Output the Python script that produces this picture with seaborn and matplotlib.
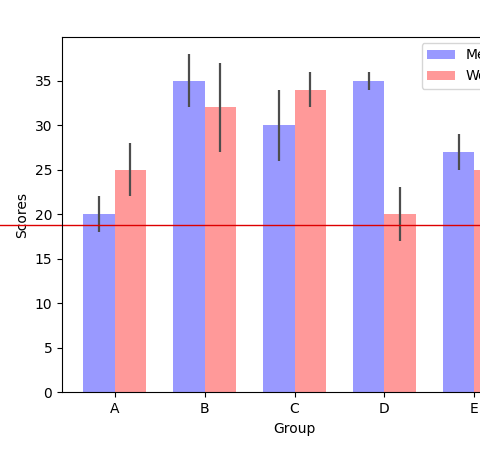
import pandas as pd
import matplotlib
matplotlib.use('Agg')
import matplotlib.pyplot as plt
import seaborn as sns

groups = ['A', 'B', 'C', 'D', 'E']
men_means = [20, 35, 30, 35, 27]
women_means = [25, 32, 34, 20, 25]
men_std = [2, 3, 4, 1, 2]
women_std = [3, 5, 2, 3, 3]
ref_level = 18.8

df = pd.DataFrame({
    'Group': groups * 2,
    'gender': ['Men'] * 5 + ['Women'] * 5,
    'Scores': men_means + women_means,
})

fig = plt.figure(figsize=(4.8, 4.5), dpi=100)
ax = fig.add_axes([62 / 480, 57.7 / 450, 465 / 480, 355.3 / 450])

# colours = 'b' and 'r' at alpha 0.4 over white
sns.barplot(data=df, x='Group', y='Scores', hue='gender', ax=ax,
            palette=['#9999ff', '#ff9999'], width=0.7, gap=0,
            errorbar=None, saturation=1)

# error bars
for cont, err in zip(ax.containers, [men_std, women_std]):
    xs = [p.get_x() + p.get_width() / 2 for p in cont.patches]
    ys = [p.get_height() for p in cont.patches]
    ax.errorbar(xs, ys, yerr=err, fmt='none', ecolor='0.3', lw=1.6)

ax.set_xlim(-0.585, 4.585)
ax.set_xlabel('Group')
ax.set_ylabel('Scores')
sns.move_legend(ax, 'upper right', title=None, bbox_to_anchor=(1.008, 1.003))

# red line across the figure
ax.axhline(ref_level, xmin=-1, xmax=2, color='#dd0000', lw=1, clip_on=False)

fig.savefig('out.png', dpi=100)
